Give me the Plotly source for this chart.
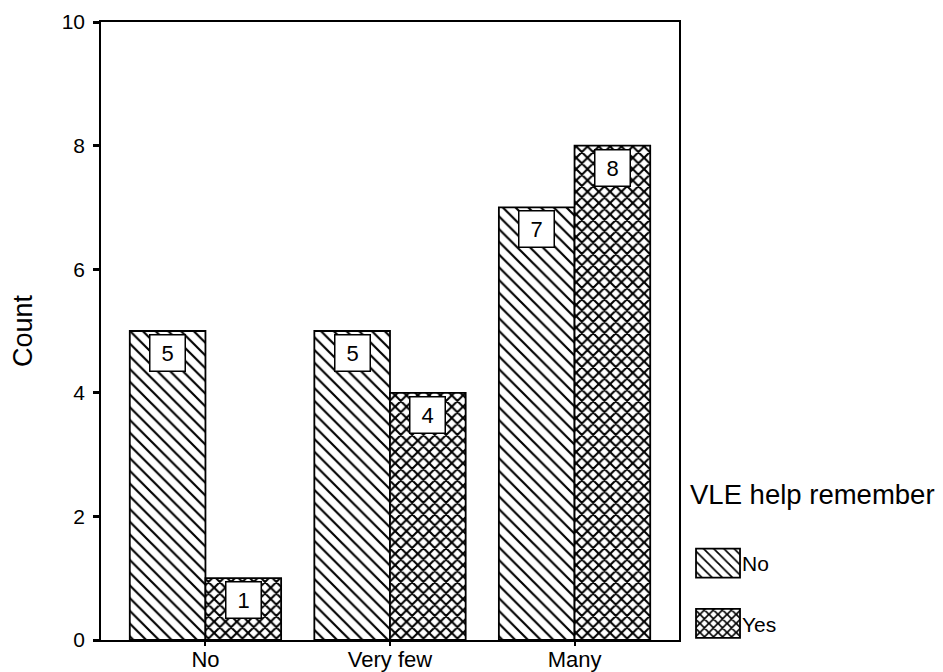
import plotly.graph_objects as go

categories = ["No", "Very few", "Many"]
series_names = ["No", "Yes"]
values_no = [5, 5, 7]
values_yes = [1, 4, 8]
y_ticks = [0, 2, 4, 6, 8, 10]
legend_title = "VLE help remember"
y_title = "Count"

FONT = "Liberation Sans, Arial, sans-serif"
BARGAP = 0.18
half = (1 - BARGAP) / 4  # offset of each bar centre from the category centre

fig = go.Figure()
patterns = {"No": dict(shape="\\", size=9, solidity=0.24),
            "Yes": dict(shape="x", size=8, solidity=0.45)}
for name, vals in zip(series_names, [values_no, values_yes]):
    p = patterns[name]
    fig.add_trace(go.Bar(
        x=categories, y=vals, name=name, legendgroup=name,
        marker=dict(color="white",
                    line=dict(color="black", width=1.8),
                    pattern=dict(shape=p["shape"], size=p["size"], solidity=p["solidity"],
                                 fgcolor="black", bgcolor="white", fgopacity=1,
                                 fillmode="replace")),
    ))

# value labels in white boxes near the top of each bar
for si, vals in enumerate([values_no, values_yes]):
    for ci, v in enumerate(vals):
        fig.add_annotation(
            x=ci + (-half if si == 0 else half), y=v, xref="x", yref="y",
            text=str(v), showarrow=False, yanchor="top", yshift=-3,
            font=dict(family=FONT, size=22, color="black"),
            bgcolor="white", bordercolor="black", borderwidth=1.5,
            width=32, height=33, borderpad=1,
        )

# legend title
fig.add_annotation(
    x=1.0156, y=0.236, xref="paper", yref="paper", xanchor="left", yanchor="middle",
    text=legend_title, showarrow=False, font=dict(family=FONT, size=27.5, color="black"),
)

fig.update_layout(
    width=935, height=664,
    margin=dict(l=93, r=264, t=14, b=32, autoexpand=False),
    paper_bgcolor="white", plot_bgcolor="white",
    barmode="group", bargap=BARGAP, bargroupgap=0,
    font=dict(family=FONT, size=21, color="black"),
    showlegend=True,
    legend=dict(
        x=1.0156, xanchor="left", y=0.157, yanchor="top",
        font=dict(size=21, family=FONT),
        bgcolor="rgba(0,0,0,0)", tracegroupgap=30, itemwidth=44,
        borderwidth=0,
    ),
    xaxis=dict(
        range=[-0.566, 2.566], showline=True, linecolor="black", linewidth=1.5,
        mirror=True, ticks="outside", ticklen=4, tickwidth=2, tickcolor="black",
        ticklabelstandoff=-5,
        tickfont=dict(size=22, family=FONT), showgrid=False, zeroline=False,
    ),
    yaxis=dict(
        range=[0, 10], tickvals=y_ticks, showline=True, linecolor="black", linewidth=1.5,
        mirror=True, ticks="outside", ticklen=6, tickwidth=2.5, tickcolor="black",
        ticklabelstandoff=4,
        tickfont=dict(size=21, family=FONT), showgrid=False, zeroline=False,
        title=dict(text=y_title, font=dict(size=27, family=FONT), standoff=22),
    ),
)

post = """
var gd = document.getElementById('{plot_id}');
function bigSwatches(){
  gd.querySelectorAll('.legend .traces').forEach(function(t){
    var p = t.querySelector('.legendpoints path');
    if(p){ p.setAttribute('d','M22,14.5H-22V-14.5H22Z'); p.setAttribute('transform','translate(30,0)');
           p.style.strokeWidth='1.8px'; }
    var tx = t.querySelector('.legendtext');
    if(tx){ tx.setAttribute('x', 54); }
  });
}
bigSwatches();
"""

fig.write_html("out.html", post_script=post)
